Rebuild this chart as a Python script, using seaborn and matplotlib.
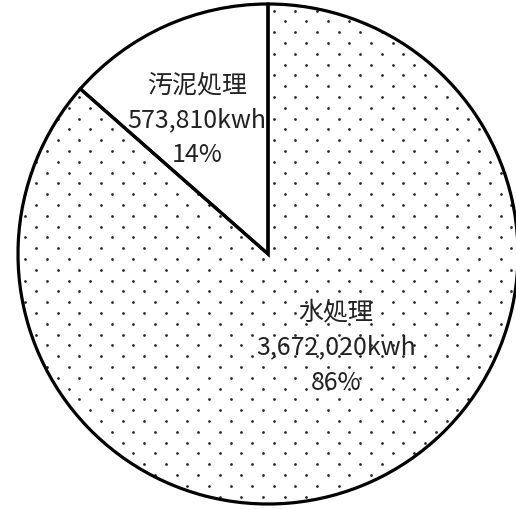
import numpy as np
import matplotlib.pyplot as plt
import seaborn as sns

sns.set_theme(style="white")
plt.rcParams['font.family'] = ['Noto Sans CJK JP', 'DejaVu Sans']

# data
categories = ["汚泥処理", "水処理"]
energy_kwh = [573810, 3672020]
pct_labels = ["14%", "86%"]

fig = plt.figure(figsize=(5.16, 5.10), dpi=100)
ax = fig.add_axes([0, 0, 1, 1])

wedges, _ = ax.pie(energy_kwh, startangle=90, counterclock=True,
                   colors=["white", "none"], radius=1.0,
                   wedgeprops=dict(edgecolor="black", linewidth=2.3, zorder=2))

# dotted texture for the water-treatment wedge (staggered lattice)
step = 0.0432
gy = np.arange(-1.1, 1.1, step)
px, py = [], []
for i, yy in enumerate(gy):
    xs = np.arange(-1.1 + (i % 2) * step, 1.1, 2 * step)
    px.extend(xs)
    py.extend([yy] * len(xs))
dots = ax.scatter(px, py, s=3.8, color="#222222", linewidths=0, zorder=1)
dots.set_clip_path(wedges[1])

# labels placed inside the wedges
label_pos = [(0.61, 3.5), (0.46, 12.0)]
for w, cat, val, pct, (r, dang) in zip(wedges, categories, energy_kwh, pct_labels, label_pos):
    ang = np.deg2rad((w.theta1 + w.theta2) / 2 + dang)
    ax.text(r * np.cos(ang), r * np.sin(ang), f"{cat}\n{val:,}kwh\n{pct}",
            ha="center", va="center", fontsize=18, color="#222222",
            linespacing=1.45, zorder=3)

ax.set_xlim(-268 / 250, 248 / 250)
ax.set_ylim(-255 / 250, 255 / 250)
ax.set_aspect("auto")
ax.axis("off")

fig.savefig("out.png", dpi=100)
